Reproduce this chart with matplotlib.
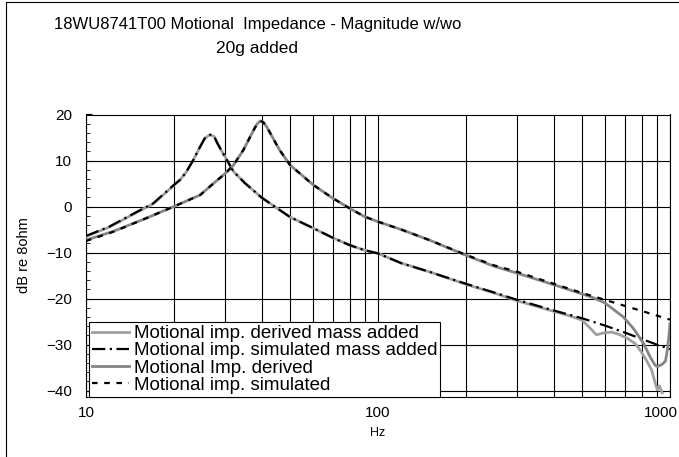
import matplotlib
matplotlib.use("Agg")
import matplotlib.pyplot as plt
import matplotlib.transforms as mtransforms
from matplotlib.lines import Line2D
from matplotlib.ticker import FixedLocator, NullFormatter, MultipleLocator

plt.rcParams['font.family'] = ['Liberation Sans', 'DejaVu Sans']

# (Hz, dB re 8ohm)
freq_mass_sim = [10, 12, 15, 17, 20, 21, 22, 23.3, 24.5, 25.5, 26.6, 27.5, 28, 29, 30, 32, 35, 40,
                 50, 60, 70, 80, 90, 100, 120, 150, 200, 250, 300, 400, 500, 600, 700, 800, 900, 1000]
db_mass_sim = [-6.4, -4.4, -1.1, 0.7, 4.7, 5.8, 7.4, 10.1, 12.8, 14.8, 15.6, 15.2, 14.1, 12.3, 10.7, 7.6, 5.1, 1.9,
               -2.3, -4.7, -6.8, -8.4, -9.5, -10.2, -12.3, -14.2, -16.8, -18.7, -20.3, -22.6, -24.3, -25.9, -27.4,
               -28.8, -30.0, -31.0]

freq_mass_der = [10, 12, 15, 17, 20, 21, 22, 23.3, 24.5, 25.5, 26.6, 27.5, 28, 29, 30, 32, 35, 40,
                 50, 60, 70, 80, 90, 100, 120, 150, 200, 250, 300, 400, 450, 500, 530, 560, 590, 630, 670,
                 720, 760, 790, 830, 865, 890, 905, 920, 940]
db_mass_der = [-6.5, -4.5, -1.2, 0.6, 4.6, 5.8, 7.4, 10.1, 12.8, 14.8, 15.6, 15.2, 14.1, 12.3, 10.7, 7.6, 5.1, 1.9,
               -2.3, -4.7, -6.8, -8.4, -9.5, -10.2, -12.3, -14.2, -16.9, -18.8, -20.5, -22.8, -23.7, -24.7, -26.3,
               -27.9, -27.5, -27.3, -27.8, -28.8, -29.8, -31.2, -33.4, -35.5, -38.4, -39.8, -39.0, -40.5]

freq_sim = [10, 12.4, 16, 20, 24.6, 27.3, 30, 32, 34.6, 37.5, 38.5, 39.5, 40.5, 41.6, 46, 50, 60, 70, 80, 90,
            100, 120, 150, 200, 250, 300, 400, 500, 600, 700, 800, 900, 1000]
db_sim = [-7.5, -5.5, -2.6, 0.0, 2.5, 5.0, 7.2, 9.0, 12.3, 16.6, 17.9, 18.6, 18.3, 17.3, 12.3, 9.0, 4.7, 1.8,
          -0.4, -2.2, -3.3, -5.0, -7.3, -10.5, -12.8, -14.2, -16.8, -18.8, -20.3, -21.6, -22.7, -23.7, -24.6]

freq_der = [10, 12.4, 16, 20, 24.6, 27.3, 30, 32, 34.6, 37.5, 38.5, 39.5, 40.5, 41.6, 46, 50, 60, 70, 80, 90,
            100, 120, 150, 200, 250, 300, 400, 500, 550, 600, 623, 692, 749, 811, 855, 889, 905, 940, 965,
            980, 990, 1000]
db_der = [-7.3, -5.4, -2.6, 0.0, 2.5, 5.0, 7.2, 9.0, 12.3, 16.6, 17.9, 18.6, 18.3, 17.3, 12.3, 9.0, 4.7, 1.8,
          -0.4, -2.2, -3.3, -5.0, -7.3, -10.6, -13.0, -14.5, -17.0, -19.0, -19.9, -21.0, -21.8, -24.0, -26.5,
          -29.7, -32.7, -34.5, -34.8, -34.3, -33.6, -31.0, -28.5, -25.5]

labels = ["Motional imp. derived mass added", "Motional imp. simulated mass added",
          "Motional Imp. derived", "Motional imp. simulated"]

fig = plt.figure(figsize=(6.79, 4.57), dpi=100)
ax = fig.add_axes([86 / 679, 1 - 396.5 / 457, 584 / 679, 282 / 457])

ax.plot(freq_mass_der, db_mass_der, color='#a0a0a0', lw=2.0, label=labels[0], zorder=3)
ax.plot(freq_mass_sim, db_mass_sim, color='black', lw=1.6, ls=(0, (6, 2, 1, 2)), label=labels[1], zorder=4)
ax.plot(freq_der, db_der, color='#858585', lw=2.0, label=labels[2], zorder=5)
ax.plot(freq_sim, db_sim, color='black', lw=1.6, ls=(0, (2.5, 3)), label=labels[3], zorder=6)

ax.set_xscale('log')
ax.set_xlim(10, 1000)
ax.set_ylim(-41.3, 20)
ax.set_xticks([10, 100, 1000], labels=['10', '100', '1000'])
ax.xaxis.set_minor_locator(FixedLocator([20, 30, 40, 50, 60, 70, 80, 90, 200, 300, 400, 500, 600, 700, 800, 900]))
ax.xaxis.set_minor_formatter(NullFormatter())
ax.set_yticks(range(-40, 21, 10))
ax.yaxis.set_minor_locator(MultipleLocator(2))
ax.grid(which='both', axis='x', color='black', lw=0.8)
ax.grid(which='major', axis='y', color='black', lw=0.8)
ax.tick_params(axis='x', which='both', length=0, pad=7, labelsize=11)
ax.tick_params(axis='y', which='major', direction='in', length=4, pad=10, labelsize=11)
ax.tick_params(axis='y', which='minor', direction='in', length=3)
for s in ax.spines.values():
    s.set_linewidth(0.8)

# last x label sits at the right edge of the chart; keep it inside the image
last = ax.get_xticklabels()[-1]
last.set_horizontalalignment('right')
last.set_transform(last.get_transform() + mtransforms.ScaledTranslation(8 / 100, 0, fig.dpi_scale_trans))

ax.set_xlabel("Hz", fontsize=9)
ax.xaxis.set_label_coords(0.5, -0.108)
ax.set_ylabel("dB re 8ohm", fontsize=10.5)
ax.yaxis.set_label_coords(-0.094, 0.5)

leg = ax.legend(loc='lower left', bbox_to_anchor=(0.005, 0.0), borderaxespad=0, fontsize=13.5,
                fancybox=False, edgecolor='black', framealpha=1, handlelength=2.0, handletextpad=0.25,
                labelspacing=0.0, borderpad=0.15)
leg.get_frame().set_linewidth(0.8)

fig.text(258 / 679, 1 - 24.5 / 457, "18WU8741T00 Motional  Impedance - Magnitude w/wo",
         ha='center', va='center', fontsize=12)
fig.text(257 / 679, 1 - 49 / 457, "20g added", ha='center', va='center', fontsize=12.5)

# outer chart border
fig.add_artist(Line2D([6 / 679, 6 / 679], [0, 1 - 2 / 457], color='black', lw=0.8))
fig.add_artist(Line2D([6 / 679, 1], [1 - 2 / 457, 1 - 2 / 457], color='black', lw=0.8))

fig.savefig("out.png", dpi=100)
